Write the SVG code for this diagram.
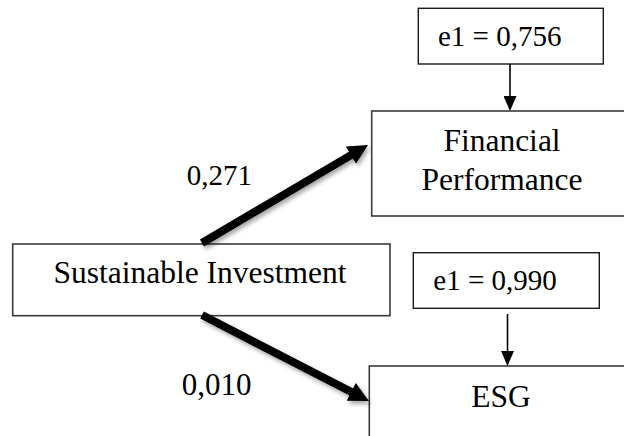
<svg xmlns="http://www.w3.org/2000/svg" width="624" height="436" viewBox="0 0 624 436">
  <style>
    .box { fill: #ffffff; stroke: #3a3a3a; stroke-width: 1.6; }
    .ebox { fill: #ffffff; stroke: #1a1a1a; stroke-width: 1.4; }
    .lbl { font-family: "Liberation Serif", "Times New Roman", serif; fill: #000000; }
    .main { font-size: 31.5px; text-anchor: middle; }
    .err { font-size: 29px; }
    .thick { stroke: #000000; stroke-width: 8; fill: none; }
    .thin { stroke: #000000; stroke-width: 1.6; fill: none; }
  </style>
  <defs>
    <marker id="bigHead" markerUnits="userSpaceOnUse" markerWidth="20" markerHeight="20" refX="8" refY="10" orient="auto">
      <path d="M0,0 L20,10 L0,20 z" fill="#000000"/>
    </marker>
    <marker id="smallHead" markerUnits="userSpaceOnUse" markerWidth="15" markerHeight="13" refX="13" refY="6.5" orient="auto">
      <path d="M0,0 L15,6.5 L0,13 z" fill="#000000"/>
    </marker>
    <filter id="shadow" x="-20%" y="-20%" width="140%" height="140%">
      <feDropShadow dx="2" dy="3" stdDeviation="2" flood-color="#000000" flood-opacity="0.35"/>
    </filter>
  </defs>

  <g id="node-e1-fp">
    <rect class="ebox" x="418.3" y="8.3" width="185" height="55.7"/>
    <text class="lbl err" x="438" y="45.7">e1 = 0,756</text>
  </g>

  <g id="node-financial-performance">
    <rect class="box" x="371.7" y="111" width="262" height="105"/>
    <text class="lbl main" x="502" y="151">Financial</text>
    <text class="lbl main" x="502" y="190">Performance</text>
  </g>

  <g id="node-sustainable-investment">
    <rect class="box" x="12.7" y="244" width="377.3" height="71.7"/>
    <text class="lbl main" x="200" y="283.3">Sustainable Investment</text>
  </g>

  <g id="node-e1-esg">
    <rect class="ebox" x="413.3" y="252.7" width="186" height="55.6"/>
    <text class="lbl err" x="433.3" y="290">e1 = 0,990</text>
  </g>

  <g id="node-esg">
    <rect class="box" x="369.3" y="366" width="262" height="80"/>
    <text class="lbl main" x="501" y="406.7">ESG</text>
  </g>

  <g id="connectors">
    <line class="thick" x1="202" y1="243" x2="357.7" y2="151.1" marker-end="url(#bigHead)" filter="url(#shadow)"/>
    <line class="thick" x1="202" y1="315" x2="358.3" y2="395.5" marker-end="url(#bigHead)" filter="url(#shadow)"/>
    <line class="thin" x1="510" y1="64" x2="510" y2="109" marker-end="url(#smallHead)"/>
    <line class="thin" x1="507.5" y1="314" x2="507.5" y2="364" marker-end="url(#smallHead)"/>
    <text class="lbl" font-size="29" x="186.7" y="185">0,271</text>
    <text class="lbl" font-size="31" x="181.7" y="395">0,010</text>
  </g>
</svg>
